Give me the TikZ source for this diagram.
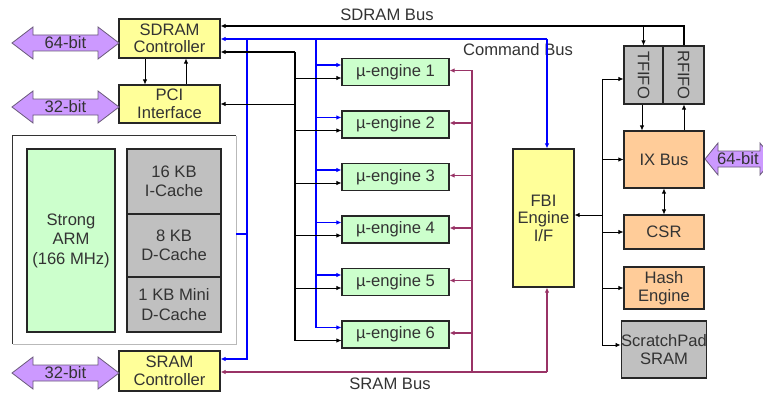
\documentclass[tikz,border=0pt]{standalone}
\usepackage{fontspec}
\setmainfont{Liberation Sans}
\usetikzlibrary{arrows.meta}
\definecolor{boxyellow}{HTML}{FFFF99}
\definecolor{boxgreen}{HTML}{CCFFCC}
\definecolor{boxorange}{HTML}{FFCC99}
\definecolor{boxgray}{HTML}{C0C0C0}
\definecolor{buspurple}{HTML}{CC99FF}
\definecolor{purpleedge}{HTML}{6A5A7A}
\definecolor{sramred}{HTML}{993366}
\definecolor{cmdblue}{HTML}{0000FF}
\definecolor{txt}{HTML}{333333}

\begin{document}
\begin{tikzpicture}[x=1pt,y=-1pt,
  font=\fontsize{16.6}{19.5}\selectfont,
  tip/.tip={Latex[length=5pt,width=4.5pt]},
  blk/.style={draw=black!85, line width=1.1pt, inner sep=0pt, align=center, text=txt},
  ctrl/.style={blk, fill=boxyellow, minimum width=101pt},
  eng/.style={blk, fill=boxgreen, minimum width=107pt, minimum height=27pt},
  cache/.style={blk, fill=boxgray, minimum width=94pt},
  unit/.style={blk, fill=boxorange, minimum width=80pt},
  lbl/.style={text=txt, inner sep=0pt},
  bluebus/.style={draw=cmdblue, line width=1.6pt},
  redbus/.style={draw=sramred, line width=1.6pt},
  blackbus/.style={draw=black, line width=1.4pt},
  thin/.style={draw=black, line width=0.8pt},
  fat/.style={fill=buspurple, draw=purpleedge, line width=0.8pt}]

\useasboundingbox (0,0) rectangle (763,396);
\clip (0,0) rectangle (763,396);

% ---------- left column ----------
\node[ctrl, minimum height=39pt] (sdram) at (169.5,38.5) {SDRAM\\[-2pt]Controller};
\node[ctrl, minimum height=38pt] (pci) at (169.5,104) {PCI\\[-2pt]Interface};
\node[ctrl, minimum height=40pt] (sram) at (169.5,371) {SRAM\\[-2pt]Controller};

% StrongARM core with its caches
\node[inner sep=0pt, minimum width=223pt, minimum height=208pt] (core) at (124.5,240) {};
\draw[gray!55, line width=0.9pt] (core.north east) -- (core.south east) -- (core.south west);
\draw[black!80, line width=0.9pt] (core.south west) -- (core.north west) -- (core.north east);
\node[blk, fill=boxgreen, minimum width=88pt, minimum height=183pt] (arm) at (71,240.5) {Strong\\ARM\\(166 MHz)};
\node[cache, minimum height=65pt] (icache) at (174,181.5) {16 KB\\I-Cache};
\node[cache, minimum height=63pt] (dcache) at (174,245.5) {8 KB\\D-Cache};
\node[cache, minimum height=55pt] (mcache) at (174,304.5) {1 KB Mini\\D-Cache};

% external bus arrows
\draw[fat] (12,43) -- (33,27) -- (33,35) -- (98,35) -- (98,27) -- (119,43) -- (98,59) -- (98,51) -- (33,51) -- (33,59) -- cycle;
\node[lbl] (w64a) at (65.5,43) {64-bit};
\draw[fat] (12,107) -- (33,91) -- (33,99) -- (98,99) -- (98,91) -- (119,107) -- (98,123) -- (98,115) -- (33,115) -- (33,123) -- cycle;
\node[lbl] (w32a) at (65.5,107) {32-bit};
\draw[fat] (12,373) -- (33,357) -- (33,365) -- (98,365) -- (98,357) -- (119,373) -- (98,389) -- (98,381) -- (33,381) -- (33,389) -- cycle;
\node[lbl] (w32b) at (65.5,373) {32-bit};
\draw[fat] (705,159) -- (718,143) -- (718,151) -- (760,151) -- (760,143) -- (773,159) -- (760,175) -- (760,167) -- (718,167) -- (718,175) -- cycle;
\node[lbl, anchor=west] (w64b) at (717,159) {64-bit};

% ---------- micro-engines ----------
\foreach \i/\y in {1/72,2/124.5,3/177,4/229.5,5/282,6/334.5}
  \node[eng] (e\i) at (395.5,\y) {µ-engine \i};

% ---------- FBI and right column ----------
\node[blk, fill=boxyellow, minimum width=61pt, minimum height=138pt] (fbi) at (543.5,218) {FBI\\[-2pt]Engine\\[-2pt]I/F};
\node[blk, fill=boxgray, minimum width=39pt, minimum height=58pt] (tfifo) at (643.5,75) {\rotatebox{-90}{TFIFO}};
\node[blk, fill=boxgray, minimum width=41pt, minimum height=58pt] (rfifo) at (683.5,75) {\rotatebox{-90}{RFIFO}};
\node[unit, minimum height=57pt] (ix) at (664,159.5) {IX Bus};
\node[unit, minimum height=34pt] (csr) at (664,232) {CSR};
\node[unit, minimum height=42pt] (hash) at (664,288) {Hash\\[-2pt]Engine};
\node[blk, fill=boxgray, minimum width=80pt, minimum height=57pt] (scratch) at (664,349.5) {ScratchPad\\[-2pt]SRAM};

% ---------- bus labels ----------
\node[lbl] (sdbuslbl) at (387,15) {SDRAM Bus};
\node[lbl] (cmdlbl) at (518,50) {Command Bus};
\node[lbl] (srbuslbl) at (390,384) {SRAM Bus};

% ---------- bus routing points ----------
\coordinate (sdR) at (684,26);
\coordinate (cmdR) at (547,39);
\coordinate (cmdA) at (247,39);
\coordinate (cmdB) at (316,39);
\coordinate (cmdAlow) at (247,359);
\coordinate (ctlTop) at (295,52);
\coordinate (ctlBot) at (295,340.5);
\coordinate (srR) at (547,372);
\coordinate (srV) at (472,372);
\coordinate (srTop) at (472,70);
\coordinate (fbiTop) at (602,79);
\coordinate (fbiBot) at (602,345);
\coordinate (coreTap) at (236,234);

% SDRAM bus
\draw[blackbus, -tip] (rfifo.north -| sdR) |- (sdram.east |- sdR);
\draw[thin, -tip] (tfifo.north |- sdR) -- (tfifo.north);

% command bus (blue); yshift is in page units, so positive is upwards
\draw[bluebus, -tip] (cmdR) -- (sdram.east |- cmdR);
\draw[bluebus, -tip] (cmdR) -- (cmdR |- fbi.north);
\draw[bluebus, -tip] (cmdA) -- (cmdAlow) -- (sram.east |- cmdAlow);
\draw[bluebus] (coreTap) -- (coreTap -| cmdA);
\draw[bluebus] (cmdB) -- ([yshift=7pt]e6.west -| cmdB);
\foreach \i in {1,...,6}
  \draw[bluebus, -tip] ([yshift=7pt]e\i.west -| cmdB) -- ([yshift=7pt]e\i.west);

% control bus (black)
\draw[blackbus, -tip] (ctlTop) -- (sdram.east |- ctlTop);
\draw[blackbus] (ctlTop) -- (ctlBot);
\draw[thin, -tip] (pci.east -| ctlTop) -- (pci.east);
\foreach \i in {1,...,6}
  \draw[thin, -tip] ([yshift=-6pt]e\i.west -| ctlTop) -- ([yshift=-6pt]e\i.west);
\draw[blackbus] (ctlBot) -- (ctlBot -| cmdB);

% SRAM bus (maroon)
\draw[redbus, -tip] (srR) -- (sram.east |- srR);
\draw[redbus, -tip] (srR) -- (srR |- fbi.south);
\draw[redbus] (srV) -- (srTop);
\foreach \i in {1,...,6}
  \draw[redbus, -tip] ([yshift=1.5pt]e\i.east -| srV) -- ([yshift=1.5pt]e\i.east);

% FBI side bus
\draw[thin] (fbiTop) -- (fbiBot);
\draw[thin, -tip] (fbiTop) -- (fbiTop -| tfifo.west);
\draw[thin, -tip] (fbiTop |- ix.west) -- (ix.west);
\draw[thin, -tip] (fbiTop |- csr.west) -- (csr.west);
\draw[thin, -tip] (fbiTop |- hash.west) -- (hash.west);
\draw[thin, -tip] (fbiBot) -- (fbiBot -| scratch.west);
\draw[thin, -tip] (fbiTop |- 0,215) -- (fbi.east |- 0,215);

% local links
\draw[thin, -tip] (tfifo.south -| 642,0) -- (ix.north -| 642,0);
\draw[thin, -tip] (ix.north -| 684,0) -- (rfifo.south -| 684,0);
\draw[thin, tip-tip] (ix.south) -- (csr.north);
\draw[thin, -tip] (sdram.south -| 145,0) -- (pci.north -| 145,0);
\draw[thin, -tip] (pci.north -| 186,0) -- (sdram.south -| 186,0);
\end{tikzpicture}
\end{document}
